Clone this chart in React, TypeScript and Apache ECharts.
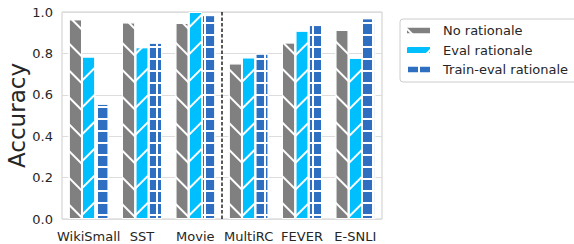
import React, { useEffect, useRef } from "react";
import * as echarts from "echarts";

const categories = ["WikiSmall", "SST", "Movie", "MultiRC", "FEVER", "E-SNLI"];
const noRationale = [0.965, 0.95, 0.947, 0.752, 0.853, 0.913];
const evalRationale = [0.785, 0.83, 1.0, 0.781, 0.91, 0.779];
const trainEvalRationale = [0.557, 0.852, 0.985, 0.799, 0.937, 0.97];
const seriesNames = ["No rationale", "Eval rationale", "Train-eval rationale"];
const yTicks = [0, 0.2, 0.4, 0.6, 0.8, 1.0];
const separatorAt = [3];

const GRAY = "#808080";
const CYAN = "#00bfff";
const BLUE = "#2f6fc1";
const TEXT = "#262626";
const FONT = "DejaVu Sans";

export default function App() {
  const ref = useRef<HTMLDivElement>(null);
  useEffect(() => {
    if (!ref.current) return;
    const chart = echarts.init(ref.current, undefined, { renderer: "svg" });
    const barCommon = {
      type: "bar",
      barGap: "0%",
      barCategoryGap: "25%",
      xAxisIndex: 0,
      yAxisIndex: 0,
    };
    chart.setOption({
      animation: false,
      textStyle: { fontFamily: FONT },
      grid: {
        left: 62,
        right: 192,
        top: 12,
        bottom: 25,
        containLabel: false,
        outerBoundsMode: "none",
        show: true,
        borderColor: "#cccccc",
        borderWidth: 1,
        backgroundColor: "transparent",
      },
      legend: {
        orient: "vertical",
        left: 400,
        top: 19,
        icon: "rect",
        itemWidth: 25,
        itemHeight: 8,
        itemGap: 4.5,
        padding: [4, 14, 5, 5],
        borderColor: "#cccccc",
        borderWidth: 1,
        borderRadius: 3,
        data: seriesNames,
        textStyle: {
          fontFamily: FONT,
          fontSize: 13,
          color: TEXT,
          padding: [0, 0, 0, 7],
          lineHeight: 15,
        },
      },
      xAxis: [
        {
          type: "category",
          data: categories,
          axisLine: { show: false },
          axisTick: { show: false },
          axisLabel: { fontFamily: FONT, fontSize: 13, color: TEXT, margin: 11, interval: 0 },
          splitLine: { show: false },
        },
        {
          type: "value",
          min: 0,
          max: categories.length,
          show: false,
        },
      ],
      yAxis: {
        type: "value",
        min: yTicks[0],
        max: yTicks[yTicks.length - 1],
        interval: 0.2,
        name: "Accuracy",
        nameLocation: "middle",
        nameGap: 34,
        nameMoveOverlap: false,
        nameTextStyle: { fontFamily: FONT, fontSize: 23, color: TEXT },
        axisLine: { show: false },
        axisTick: { show: false },
        axisLabel: {
          fontFamily: FONT,
          fontSize: 13,
          color: TEXT,
          margin: 9,
          formatter: (v: number) => v.toFixed(1),
        },
        splitLine: { lineStyle: { color: "#dddddd", width: 1 } },
      },
      series: [
        {
          ...barCommon,
          name: seriesNames[0],
          data: noRationale,
          itemStyle: {
            color: GRAY,
            borderColor: "#ffffff",
            borderWidth: 1,
            decal: {
              symbol: "rect",
              symbolSize: 1,
              color: "#ffffff",
              dashArrayX: [1, 0],
              dashArrayY: [2, 17],
              rotation: Math.PI / 4,
            },
          },
        },
        {
          ...barCommon,
          name: seriesNames[1],
          data: evalRationale,
          itemStyle: {
            color: CYAN,
            borderColor: "#ffffff",
            borderWidth: 1,
            decal: {
              symbol: "rect",
              symbolSize: 1,
              color: "#ffffff",
              dashArrayX: [1, 0],
              dashArrayY: [2, 17],
              rotation: -Math.PI / 4,
            },
          },
        },
        {
          ...barCommon,
          name: seriesNames[2],
          data: trainEvalRationale,
          itemStyle: {
            color: BLUE,
            borderColor: "#ffffff",
            borderWidth: 1,
            decal: {
              symbol: "rect",
              symbolSize: 1,
              color: "#ffffff",
              dashArrayX: [
                [2, 10],
                [1, 0],
              ],
              dashArrayY: [10, 0, 2, 0],
              rotation: 0,
            },
          },
        },
        {
          type: "line",
          name: "separator",
          xAxisIndex: 1,
          yAxisIndex: 0,
          symbol: "none",
          silent: true,
          data: [
            [separatorAt[0], yTicks[0]],
            [separatorAt[0], yTicks[yTicks.length - 1]],
          ],
          lineStyle: { color: "#000000", width: 1.3, type: [3.5, 2] },
          z: 5,
        },
      ],
    });
    return () => chart.dispose();
  }, []);
  return <div ref={ref} style={{ width: 574, height: 244, position: "absolute", left: 0, top: 0 }} />;
}
